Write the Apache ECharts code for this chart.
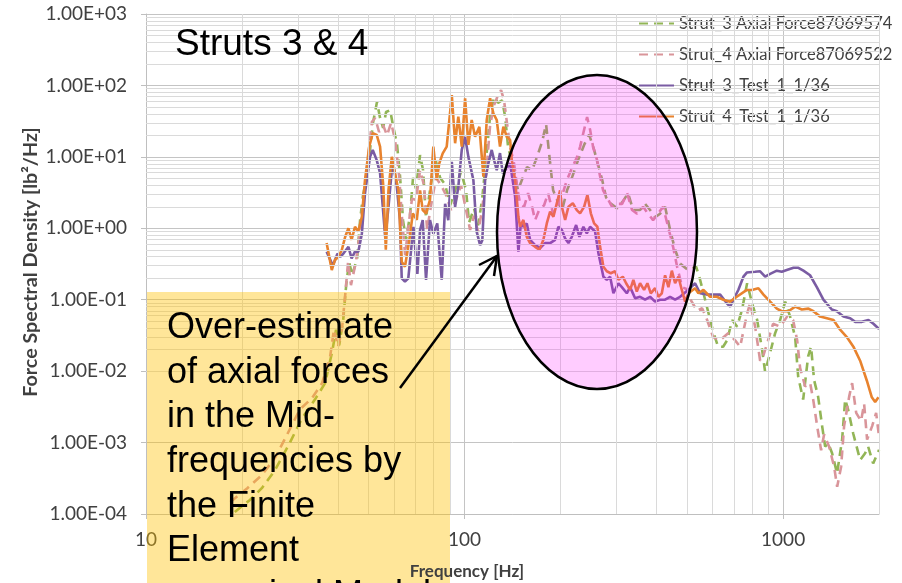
<!DOCTYPE html>
<html>
<head>
<meta charset="utf-8">
<script src="https://cdn.jsdelivr.net/npm/echarts@6/dist/echarts.min.js"></script>
<style>
  html, body { margin: 0; padding: 0; background: #ffffff; }
  #chart { width: 902px; height: 583px; }
</style>
</head>
<body>
<div id="chart"></div>
<script>
// Force PSD of struts 3 and 4: finite-element axial forces vs. test (1/36 octave)

const SERIES_NAMES = [
  'Strut_3 Axial Force87069574',
  'Strut_4 Axial Force87069522',
  'Strut_3_Test_1_1/36',
  'Strut_4_Test_1_1/36'
];

// Strut 3, finite-element axial force: frequency [Hz] and PSD [lb²/Hz]
const S3_FE_FREQ = [19.0, 21.2, 23.1, 25.4, 28.3, 30.9, 33.9, 36.5, 38.4, 39.5,
  40.4, 41.6, 42.5, 43.4, 44.4, 46.0, 47.0, 48.0, 49.1, 50.5,
  51.6, 53.1, 54.3, 55.5, 56.7, 58.4, 59.6, 61.4, 62.7, 64.1,
  65.5, 67.4, 68.9, 70.4, 72.5, 74.1, 75.7, 77.9, 80.8, 83.8,
  86.9, 90.1, 93.4, 97.5, 101.1, 103.3, 107.1, 110.3, 113.5, 116.8,
  120.3, 123.8, 127.4, 131.2, 134.1, 137.0, 142.1, 147.2, 151.5, 157.1,
  162.9, 168.9, 175.1, 180.3, 185.6, 189.7, 195.2, 202.4, 209.8, 217.6,
  227.2, 237.3, 246.1, 255.1, 262.6, 270.3, 278.2, 288.4, 301.2, 314.5,
  326.1, 338.1, 355.6, 368.7, 382.3, 396.4, 411.0, 426.1, 441.8, 458.1,
  475.0, 503.0, 533.2, 548.8, 569.0, 603, 625, 648, 667, 692,
  717, 743, 771, 799, 829, 859, 878, 910, 944, 979,
  1015, 1052, 1091, 1115, 1156, 1198, 1224, 1251, 1288, 1326,
  1355, 1385, 1425, 1477, 1532, 1566, 1600, 1659, 1745, 1809,
  1849, 1917, 2001];
const S3_FE_PSD = [1.07e-4, 1.57e-4, 2.3e-4, 4.1e-4, 1.0e-3, 2.2e-3, 4.0e-3, 6.8e-3, 0.0186, 0.038,
  0.023, 0.052, 0.16, 0.34, 0.22, 0.38, 1.3, 2.9, 4.8, 12.5,
  30, 58.6, 35, 25.4, 42.4, 45, 27.8, 14.7, 5.5, 1.3,
  0.69, 1.5, 5.1, 3.6, 10.6, 6.5, 1.4, 3.4, 9.7, 5.1,
  4.1, 2.1, 3.4, 6.2, 3.4, 1.2, 1.9, 1.1, 2.5, 9.1,
  38, 69, 57, 62, 36.5, 13.7, 7.2, 3.4, 4.8, 7.2,
  6.5, 10, 16.2, 28.6, 8.2, 3.4, 2.5, 1.8, 3.4, 5.2,
  9.0, 14.7, 20.5, 12.5, 7.7, 4.8, 2.7, 2.2, 1.9, 2.4,
  3.1, 1.8, 1.8, 2.2, 1.8, 1.43, 1.6, 2.0, 0.95, 0.50,
  0.32, 0.26, 0.29, 0.19, 0.10, 0.036, 0.022, 0.022, 0.027, 0.052,
  0.042, 0.072, 0.17, 0.089, 0.052, 0.020, 0.0098, 0.018, 0.034, 0.052,
  0.094, 0.058, 0.030, 0.0084, 0.0040, 0.016, 0.022, 0.0075, 0.0044, 0.0017,
  8.8e-4, 9.8e-4, 7.1e-4, 3.7e-4, 1.1e-3, 0.0040, 0.0029, 0.00135, 5.7e-4, 7.1e-4,
  8.8e-4, 5.1e-4, 7.9e-4];

// Strut 4, finite-element axial force
const S4_FE_FREQ = [18.4, 20.8, 23.1, 25.4, 27.7, 30.4, 33.2, 35.7, 37.8, 38.9,
  40.1, 41.2, 42.2, 43.1, 44.0, 45.6, 46.6, 47.7, 48.7, 50.1,
  51.2, 52.4, 53.9, 55.5, 57.1, 58.8, 60.5, 62.3, 63.7, 65.1,
  66.5, 68.4, 70.4, 72.5, 74.6, 76.3, 78.5, 81.4, 84.4, 87.5,
  90.7, 94.0, 97.5, 100.4, 104.1, 107.1, 110.3, 113.5, 116.8, 120.3,
  123.8, 127.4, 130.2, 133.0, 136.0, 139.0, 143.0, 146.2, 149.4, 153.8,
  158.3, 162.9, 166.5, 171.4, 177.7, 182.9, 189.7, 196.7, 203.9, 209.8,
  217.6, 225.6, 230.5, 237.3, 242.5, 247.8, 253.2, 260.6, 266.4, 272.2,
  280.2, 290.5, 301.2, 312.3, 323.8, 335.7, 348.0, 363.5, 376.8, 390.7,
  405.1, 420.0, 435.5, 451.5, 464.8, 481.9, 499.6, 514.3, 537.1, 556.9,
  577.4, 603, 634, 672, 707, 733, 771, 788, 817, 847,
  865, 897, 930, 979, 1029, 1075, 1107, 1131, 1173, 1216,
  1243, 1279, 1316, 1345, 1394, 1446, 1478, 1521, 1554, 1612,
  1647, 1696, 1757, 1796, 1835, 1903, 1959, 2001];
const S4_FE_PSD = [1.47e-4, 2.3e-4, 3.5e-4, 6.1e-4, 1.28e-3, 2.9e-3, 4.2e-3, 6.8e-3, 0.0153, 0.038,
  0.022, 0.038, 0.116, 0.34, 0.16, 0.34, 0.69, 1.8, 4.0, 12.5,
  31, 35, 22.3, 27.8, 20, 30, 17.4, 5.5, 1.3, 0.42,
  1.0, 2.6, 2.5, 6.5, 4.0, 0.95, 2.1, 5.1, 4.0, 2.9,
  1.8, 2.5, 4.0, 2.1, 0.95, 1.5, 0.89, 1.8, 5.5, 27.8,
  53, 73, 86, 62, 29, 13.8, 8.1, 3.8, 2.2, 2.0,
  3.1, 2.0, 1.3, 1.8, 2.1, 3.1, 1.6, 2.1, 3.2, 4.8,
  7.0, 10, 13.8, 24, 36, 24, 13.8, 9.0, 5.3, 3.4,
  2.7, 2.0, 2.2, 2.2, 3.1, 1.8, 1.6, 2.0, 1.6, 1.3,
  1.6, 2.0, 1.05, 0.55, 0.29, 0.15, 0.14, 0.097, 0.07, 0.076,
  0.052, 0.030, 0.027, 0.034, 0.027, 0.022, 0.064, 0.089, 0.042, 0.014,
  0.016, 0.027, 0.046, 0.042, 0.058, 0.052, 0.027, 0.011, 0.0061, 0.0068,
  0.0040, 0.0017, 7.8e-4, 0.0013, 8.8e-4, 4.6e-4, 2.4e-4, 4.6e-4, 0.0017, 0.0044,
  0.0068, 0.0026, 0.0020, 0.0035, 0.0011, 0.0017, 0.0026, 0.0012];

// Strut 3, measured (test 1, 1/36 octave)
const S3_TEST_FREQ = [36.9, 38.6, 39.9, 40.7, 41.6, 43.2, 44.2, 45.3, 46.4, 47.6,
  48.7, 50.5, 51.5, 53.0, 54.3, 56.4, 57.7, 59.5, 61.3, 62.7,
  63.5, 65.0, 66.6, 69.1, 71.1, 72.5, 73.9, 75.7, 77.9, 79.8,
  82.1, 84.8, 86.9, 88.9, 91.2, 93.4, 95.6, 98.0, 100.4, 102.8,
  106.6, 109.2, 111.9, 113.7, 116.0, 118.8, 121.7, 123.8, 126.2, 129.2,
  131.8, 139.0, 144.1, 147.6, 150.2, 153.0, 156.8, 160.6, 166.5, 172.6,
  178.9, 185.6, 192.4, 197.0, 202.0, 206.9, 211.9, 217.1, 224.0, 229.4,
  236.1, 242.0, 247.8, 256.9, 263.1, 272.8, 279.6, 286.4, 293.3, 304.1,
  311.7, 323.1, 330.9, 343.1, 355.6, 368.7, 382.3, 396.4, 411.0, 426.1,
  441.8, 458.1, 475.0, 510.5, 529.3, 548.8, 576.1, 604.3, 634.3, 665.8,
  681.8, 698.2, 723.9, 750.6, 769.3, 816.8, 847.0, 878.2, 910.5, 955.6,
  990.6, 1027, 1078, 1117, 1158, 1215, 1276, 1338, 1422, 1475,
  1547, 1624, 1684, 1767, 1853, 1921, 2001];
const S3_TEST_PSD = [0.47, 0.30, 0.44, 0.40, 0.44, 0.55, 0.38, 0.47, 0.47, 0.84,
  3.1, 10, 12.5, 9.0, 5.9, 0.72, 2.0, 9.0, 3.8, 1.3,
  0.20, 0.18, 0.20, 1.05, 0.23, 0.94, 1.3, 0.19, 1.3, 0.84,
  1.17, 0.19, 2.2, 1.3, 8.5, 2.0, 3.8, 12.5, 19, 10,
  4.7, 0.89, 0.58, 0.68, 4.7, 8.1, 12.5, 9.0, 6.5, 11.3,
  5.9, 8.1, 2.8, 0.47, 1.17, 1.05, 1.17, 0.69, 0.58, 0.53,
  0.62, 0.62, 0.69, 1.05, 0.95, 0.72, 0.62, 0.76, 1.11, 0.76,
  1.05, 0.85, 1.05, 0.90, 0.45, 0.21, 0.19, 0.21, 0.123, 0.17,
  0.15, 0.123, 0.15, 0.105, 0.11, 0.10, 0.11, 0.094, 0.10, 0.10,
  0.11, 0.10, 0.11, 0.145, 0.17, 0.123, 0.118, 0.118, 0.118, 0.089,
  0.08, 0.10, 0.138, 0.21, 0.24, 0.246, 0.25, 0.21, 0.23, 0.255,
  0.246, 0.26, 0.28, 0.28, 0.255, 0.22, 0.15, 0.10, 0.073, 0.069,
  0.058, 0.055, 0.049, 0.049, 0.052, 0.046, 0.039];

// Strut 4, measured (test 1, 1/36 octave)
const S4_TEST_FREQ = [36.9, 38.3, 39.2, 40.2, 41.2, 42.2, 43.2, 44.2, 45.3, 46.4,
  47.6, 48.7, 50.2, 51.5, 53.0, 54.3, 55.6, 56.6, 57.7, 59.1,
  60.5, 62.0, 63.5, 65.0, 67.1, 68.8, 70.8, 72.5, 73.9, 75.7,
  77.9, 79.8, 81.8, 83.3, 85.4, 87.9, 91.2, 93.4, 95.6, 98.0,
  100.4, 102.8, 105.3, 107.9, 111.3, 114.6, 117.4, 120.3, 123.1, 126.2,
  129.2, 132.4, 135.7, 139.0, 140.7, 144.1, 147.6, 149.4, 153.0, 156.8,
  160.6, 166.5, 171.8, 176.8, 181.2, 185.6, 190.1, 194.8, 199.5, 202.0,
  206.9, 211.9, 218.7, 225.1, 230.5, 237.3, 243.0, 249.1, 255.1, 261.2,
  266.4, 272.8, 279.6, 287.7, 296.8, 304.1, 313.9, 321.5, 330.9, 338.8,
  347.3, 355.6, 366.1, 375.0, 384.2, 396.4, 406.0, 416.2, 426.1, 436.5,
  447.4, 458.1, 469.2, 480.8, 492.5, 504.4, 529.3, 542.2, 562.2, 589.9,
  619.1, 649.5, 681.8, 715.5, 769.3, 797.5, 836.5, 867.7, 910.5, 955.6,
  990.6, 1039, 1091, 1145, 1201, 1245, 1307, 1372, 1439, 1510,
  1585, 1662, 1745, 1831, 1899, 1945, 1992];
const S4_TEST_PSD = [0.62, 0.26, 0.36, 0.40, 0.50, 0.76, 1.0, 0.69, 1.05, 0.90,
  1.45, 4.75, 13.9, 21.4, 20.3, 13.9, 3.8, 0.50, 3.4, 10,
  5.9, 3.4, 0.34, 0.29, 0.69, 1.62, 1.31, 3.4, 1.8, 1.62,
  2.5, 13.9, 4.75, 8.1, 11.2, 13.9, 73, 15.5, 36.5, 13.9,
  66, 14.7, 32.8, 19.1, 26.4, 5.3, 32.8, 66, 40.7, 32.8,
  13.9, 26.4, 19.1, 17.3, 9.0, 4.75, 1.45, 1.05, 1.31, 0.76,
  0.62, 0.55, 0.50, 0.69, 1.17, 1.71, 1.45, 2.24, 3.4, 2.0,
  1.31, 2.0, 2.24, 1.8, 1.62, 2.0, 2.95, 1.62, 1.17, 1.05,
  0.55, 0.29, 0.25, 0.235, 0.25, 0.19, 0.21, 0.17, 0.137, 0.19,
  0.13, 0.17, 0.137, 0.17, 0.123, 0.145, 0.11, 0.123, 0.22, 0.15,
  0.255, 0.17, 0.21, 0.137, 0.094, 0.123, 0.145, 0.123, 0.137, 0.11,
  0.11, 0.10, 0.094, 0.11, 0.137, 0.137, 0.145, 0.118, 0.094, 0.075,
  0.069, 0.069, 0.080, 0.073, 0.075, 0.069, 0.058, 0.055, 0.052, 0.038,
  0.030, 0.022, 0.014, 0.0074, 0.0043, 0.0037, 0.0043];

// Axis ranges and the minor (1..9 per decade) grid values
const X_MIN = 10, X_MAX = 2000;
const Y_MIN = 1e-4, Y_MAX = 1e3;
const MINOR_X = [20, 30, 40, 50, 60, 70, 80, 90, 200, 300, 400, 500, 600, 700, 800, 900, 2000];
const MINOR_Y = [];
for (let e = -4; e <= 2; e++) {
  for (let k = 2; k <= 9; k++) MINOR_Y.push(k * Math.pow(10, e));
}

const NOTE_LINES = [
  'Over-estimate',
  'of axial forces',
  'in the Mid-',
  'frequencies by',
  'the Finite',
  'Element',
  'numerical Model'
];

const LABEL_FONT = 'Lato, "Open Sans", sans-serif';
const ARIAL = '"Liberation Sans", Arial, sans-serif';

const pairs = (f, v) => f.map((x, i) => [x, v[i]]);

function lineSeries(name, freq, psd, color, dashed) {
  return {
    name: name,
    type: 'line',
    data: pairs(freq, psd),
    symbol: 'none',
    showSymbol: false,
    smooth: false,
    clip: true,
    z: 3,
    lineStyle: { color: color, width: 2.6, type: dashed ? [9, 6] : 'solid' },
    itemStyle: { color: color },
    emphasis: { disabled: true }
  };
}

const chart = echarts.init(document.getElementById('chart'), null, { renderer: 'canvas' });

const option = {
  animation: false,
  backgroundColor: '#ffffff',
  grid: { left: 146, right: 23, top: 14, bottom: 69, containLabel: false },
  xAxis: {
    type: 'log',
    logBase: 10,
    min: X_MIN,
    max: X_MAX,
    axisLine: { show: true, lineStyle: { color: '#bfbfbf', width: 1 } },
    axisTick: { show: true, length: 5, lineStyle: { color: '#bfbfbf' } },
    splitLine: { show: true, lineStyle: { color: '#c4c4c4', width: 1 } },
    axisLabel: {
      margin: 16,
      color: '#404040',
      fontFamily: LABEL_FONT,
      fontSize: 19,
      showMaxLabel: false,
      formatter: function (v) {
        const e = Math.log10(v);
        if (Math.abs(e - Math.round(e)) > 1e-6) return '';
        return String(Math.round(Math.pow(10, Math.round(e))));
      }
    }
  },
  yAxis: {
    type: 'log',
    logBase: 10,
    min: Y_MIN,
    max: Y_MAX,
    axisLine: { show: true, lineStyle: { color: '#bfbfbf', width: 1 } },
    axisTick: { show: true, length: 5, lineStyle: { color: '#bfbfbf' } },
    splitLine: { show: true, lineStyle: { color: '#c4c4c4', width: 1 } },
    axisLabel: {
      margin: 19,
      color: '#404040',
      fontFamily: LABEL_FONT,
      fontSize: 19,
      formatter: function (v) {
        const e = Math.round(Math.log10(v));
        return '1.00E' + (e < 0 ? '-' : '+') + String(Math.abs(e)).padStart(2, '0');
      }
    }
  },
  legend: {
    orient: 'vertical',
    left: 638,
    top: 15,
    padding: 0,
    itemWidth: 35,
    itemHeight: 14,
    itemGap: 14,
    selectedMode: false,
    data: SERIES_NAMES,
    // line only, no marker in the key
    itemStyle: { color: 'rgba(0,0,0,0)', borderWidth: 0, opacity: 0 },
    textStyle: { fontFamily: LABEL_FONT, fontSize: 16.5, color: '#404040' }
  },
  series: [
    {
      name: 'minor grid',
      type: 'line',
      data: [[X_MIN, Y_MIN]],
      symbol: 'none',
      silent: true,
      z: 1,
      lineStyle: { width: 0 },
      markLine: {
        silent: true,
        symbol: ['none', 'none'],
        label: { show: false },
        animation: false,
        emphasis: { disabled: true },
        lineStyle: { color: '#dadada', width: 1, type: 'solid' },
        data: MINOR_X.map(v => ({ xAxis: v })).concat(MINOR_Y.map(v => ({ yAxis: v })))
      }
    },
    lineSeries(SERIES_NAMES[0], S3_FE_FREQ, S3_FE_PSD, '#92b556', true),
    lineSeries(SERIES_NAMES[1], S4_FE_FREQ, S4_FE_PSD, '#d9959a', true),
    lineSeries(SERIES_NAMES[2], S3_TEST_FREQ, S3_TEST_PSD, '#7a5ca3', false),
    lineSeries(SERIES_NAMES[3], S4_TEST_FREQ, S4_TEST_PSD, '#e8832e', false)
  ],
  graphic: [
    // chart title
    {
      type: 'text', x: 175, y: 45, z: 100,
      style: { text: 'Struts 3 & 4', font: '37px ' + ARIAL, fill: '#000000', align: 'left', verticalAlign: 'middle' }
    },
    // axis titles
    {
      type: 'text', x: 467, y: 572, z: 100,
      style: { text: 'Frequency [Hz]', font: 'bold 17px ' + LABEL_FONT, fill: '#404040', align: 'center', verticalAlign: 'middle' }
    },
    {
      type: 'text', x: 31, y: 262, rotation: Math.PI / 2, z: 100,
      style: { text: 'Force Spectral Density [lb²/Hz]', font: 'bold 19.7px ' + LABEL_FONT, fill: '#404040', align: 'center', verticalAlign: 'middle' }
    },
    // highlighted mid-frequency region
    {
      type: 'ellipse', z: 90,
      shape: { cx: 597, cy: 232, rx: 100, ry: 157 },
      style: { fill: 'rgba(255,0,255,0.2)', stroke: '#000000', lineWidth: 2.5 }
    },
    // call-out box
    {
      type: 'rect', z: 95,
      shape: { x: 147, y: 292, width: 303, height: 300 },
      style: { fill: 'rgba(255,192,0,0.4)' }
    },
    {
      type: 'text', x: 167, y: 306, z: 96,
      style: {
        text: NOTE_LINES.join('\n'),
        font: '36px ' + ARIAL,
        lineHeight: 44.6,
        fill: '#000000',
        align: 'left',
        verticalAlign: 'top'
      }
    },
    // arrow from the call-out to the ellipse
    {
      type: 'line', z: 97,
      shape: { x1: 400, y1: 388, x2: 497, y2: 256 },
      style: { stroke: '#000000', lineWidth: 2.5 }
    },
    {
      type: 'polyline', z: 97,
      shape: { points: [[479, 265], [497, 256], [494, 276]] },
      style: { stroke: '#000000', lineWidth: 2.5, fill: null }
    }
  ]
};

chart.setOption(option);
</script>
</body>
</html>
